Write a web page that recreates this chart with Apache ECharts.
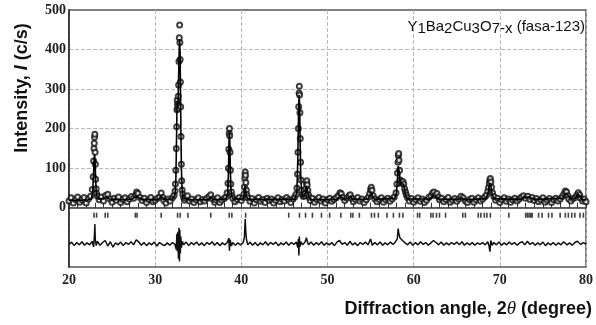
<!DOCTYPE html>
<html>
<head>
<meta charset="utf-8">
<title>YBCO XRD</title>
<script src="https://cdn.jsdelivr.net/npm/echarts@6/dist/echarts.min.js"></script>
<style>
  html, body { margin: 0; padding: 0; background: #fff; }
  #myChart { width: 596px; height: 325px; }
</style>
</head>
<body>
<div id="myChart"></div>
<script>
// observed intensity, [2theta, c/s]
var yObs = [
  [20.0,17],[20.25,25],[20.5,12],[20.75,21],[21.0,27],[21.25,14],[21.5,20],[21.75,26],[22.0,12],[22.25,22],[22.5,29],[22.7,46],
  [22.8,78],[22.86,118],[22.9,150],[22.93,163],[22.96,178],[23.0,186],[23.03,140],[23.06,110],[23.1,72],[23.15,48],[23.2,36],[23.3,29],
  [23.5,20],[23.75,27],[24.0,17],[24.25,31],[24.5,34],[24.75,22],[25.0,14],[25.25,24],[25.5,19],[25.75,27],[26.0,13],[26.25,21],
  [26.5,25],[26.75,15],[27.0,22],[27.25,28],[27.5,24],[27.75,33],[27.85,40],[28.0,36],[28.25,26],[28.5,18],[28.75,24],[29.0,13],
  [29.25,21],[29.5,26],[29.75,15],[30.0,19],[30.25,24],[30.5,27],[30.7,37],[30.9,26],[31.0,18],[31.25,12],[31.5,22],[31.75,17],
  [32.0,25],[32.2,31],
  [32.3,42],[32.35,60],[32.4,95],[32.45,150],[32.5,205],[32.53,248],[32.56,272],[32.59,262],[32.62,250],[32.65,258],[32.68,282],
  [32.72,310],[32.76,370],[32.8,430],[32.84,462],[32.87,418],[32.9,375],[32.93,318],[32.96,255],[33.0,180],[33.04,110],[33.08,68],
  [33.13,45],[33.2,34],[33.3,26],[33.4,19],
  [33.5,24],[33.75,30],[34.0,17],[34.25,22],[34.5,13],[34.75,20],[35.0,25],[35.25,15],[35.5,21],[35.75,17],[36.0,24],[36.25,28],
  [36.45,33],[36.65,22],[36.9,14],[37.0,20],[37.25,25],[37.5,13],[37.75,19],[38.0,23],[38.2,27],[38.35,38],
  [38.45,62],[38.5,100],[38.55,148],[38.59,188],[38.62,200],[38.65,182],[38.69,140],[38.73,95],[38.78,60],[38.85,40],[38.92,30],[39.0,24],
  [39.25,15],[39.5,21],[39.75,26],[40.0,18],[40.2,26],
  [40.3,34],[40.36,52],[40.41,75],[40.45,90],[40.48,82],[40.52,64],[40.58,45],[40.65,33],[40.75,25],
  [41.0,16],[41.25,23],[41.5,12],[41.75,20],[42.0,26],[42.25,16],[42.5,21],[42.75,13],[43.0,24],[43.25,18],[43.5,22],[43.75,12],
  [44.0,19],[44.25,25],[44.5,15],[44.75,21],[45.0,17],[45.25,26],[45.5,20],[45.75,13],[46.0,22],[46.2,27],[46.35,34],
  [46.45,50],[46.52,85],[46.57,140],[46.62,200],[46.66,255],[46.7,290],[46.73,307],[46.76,285],[46.8,240],[46.84,175],[46.88,115],
  [46.93,70],[47.0,44],[47.1,32],[47.2,28],[47.3,30],
  [47.4,36],[47.48,48],[47.55,62],[47.6,68],[47.65,58],[47.72,44],[47.8,32],[47.9,25],
  [48.0,18],[48.25,24],[48.5,14],[48.75,21],[49.0,26],[49.25,17],[49.5,22],[49.75,12],[50.0,20],[50.25,24],[50.5,16],[50.75,21],
  [51.0,25],[51.25,30],[51.45,38],[51.6,35],[51.8,26],[52.0,18],[52.25,24],[52.5,30],[52.65,33],[52.85,24],[53.0,15],[53.25,21],
  [53.5,26],[53.75,17],[54.0,22],[54.25,13],[54.5,20],[54.75,27],[54.9,36],[55.0,46],[55.08,52],[55.16,44],[55.3,30],[55.5,22],
  [55.75,15],[56.0,21],[56.25,25],[56.5,14],[56.75,20],[57.0,24],[57.25,16],[57.5,22],[57.75,27],[57.95,38],
  [58.05,60],[58.12,88],[58.18,115],[58.22,132],[58.26,137],[58.3,120],[58.36,95],[58.45,70],[58.55,62],[58.65,64],[58.75,66],
  [58.85,60],[58.95,48],[59.05,40],[59.15,32],[59.3,25],
  [59.5,17],[59.75,23],[60.0,14],[60.25,20],[60.5,25],[60.75,16],[61.0,22],[61.25,13],[61.5,19],[61.75,26],[62.0,30],[62.2,37],
  [62.35,40],[62.5,31],[62.7,36],[62.9,27],[63.0,20],[63.25,24],[63.5,15],[63.75,21],[64.0,26],[64.25,14],[64.5,19],[64.75,23],
  [65.0,16],[65.25,22],[65.5,29],[65.75,25],[66.0,17],[66.25,13],[66.5,21],[66.75,24],[67.0,14],[67.25,20],[67.5,25],[67.75,17],
  [68.0,22],[68.25,27],[68.45,32],
  [68.6,42],[68.7,52],[68.78,62],[68.84,70],[68.9,74],[68.96,65],[69.04,52],[69.15,38],[69.3,28],
  [69.5,19],[69.75,24],[70.0,13],[70.25,20],[70.5,25],[70.75,16],[71.0,22],[71.25,14],[71.5,20],[71.75,24],[72.0,17],[72.25,22],
  [72.5,27],[72.75,30],[73.0,24],[73.25,29],[73.5,21],[73.75,26],[74.0,18],[74.25,23],[74.5,15],[74.75,20],[75.0,25],[75.25,14],
  [75.5,19],[75.75,23],[76.0,13],[76.25,20],[76.5,24],[76.75,17],[77.0,22],[77.25,28],[77.45,35],[77.6,42],[77.75,40],[77.9,30],
  [78.0,22],[78.25,17],[78.5,23],[78.75,26],[78.95,32],[79.1,38],[79.25,33],[79.4,24],[79.6,17],[79.8,22],[80.0,15]
]

// calculated profile, [2theta, c/s]
var yCalc = [
  [20,19],[21,19],[22,19],[22.6,22],[22.75,40],[22.85,85],[22.92,125],[22.97,135],[23.02,120],[23.08,80],[23.15,45],[23.25,28],
  [23.4,22],[24.0,23],[24.3,27],[24.5,26],[24.8,21],[26,20],[27.4,22],[27.75,30],[27.9,32],[28.1,25],[28.5,21],[30.3,20],
  [30.7,29],[31.0,21],[32.0,22],[32.3,32],[32.4,70],[32.47,160],[32.53,250],[32.57,270],[32.62,255],[32.67,275],[32.73,340],
  [32.79,400],[32.84,425],[32.89,395],[32.94,300],[32.99,190],[33.05,95],[33.12,50],[33.2,32],[33.4,23],[34,20],[36.2,20],
  [36.45,26],[36.7,20],[38.2,22],[38.4,35],[38.5,85],[38.56,160],[38.61,195],[38.66,170],[38.72,100],[38.8,45],[38.9,28],
  [39.1,22],[40.2,22],[40.35,35],[40.44,55],[40.5,45],[40.6,28],[40.8,21],[46.2,21],[46.45,40],[46.55,120],[46.62,210],
  [46.68,270],[46.72,285],[46.77,250],[46.83,160],[46.9,80],[47.0,40],[47.2,27],[47.45,38],[47.58,55],[47.68,42],[47.85,25],
  [48.2,20],[51.2,21],[51.5,32],[51.8,22],[52.4,23],[52.65,29],[52.9,21],[54.7,22],[54.95,33],[55.07,40],[55.2,30],[55.5,21],
  [57.8,24],[58.0,38],[58.12,75],[58.2,105],[58.25,110],[58.32,92],[58.42,68],[58.55,60],[58.7,63],[58.82,60],[58.95,45],
  [59.1,30],[59.3,22],[61.9,22],[62.2,30],[62.35,31],[62.6,27],[62.9,22],[65.3,21],[65.6,25],[65.9,20],[68.4,23],[68.6,35],
  [68.75,50],[68.87,62],[68.97,55],[69.1,35],[69.3,23],[72.4,21],[72.8,26],[73.3,27],[73.7,24],[74.2,21],[77.3,24],[77.55,36],
  [77.7,40],[77.85,33],[78.2,22],[78.8,24],[79.1,34],[79.3,28],[79.6,20],[80,20]
]

// difference obs - calc, [2theta, c/s]
var yDiff = [
  [20.0,-2],[20.3,4],[20.6,-5],[20.9,3],[21.2,-3],[21.5,5],[21.8,-4],[22.1,2],[22.4,-3],[22.7,6],[22.85,-8],[22.95,20],[23.0,50],
  [23.05,12],[23.15,-5],[23.3,6],[23.6,-4],[23.9,3],[24.2,8],[24.5,-6],[24.8,5],[25.1,-9],[25.4,2],[25.7,-3],[26.0,4],[26.3,-5],
  [26.6,3],[26.9,-2],[27.2,5],[27.5,-3],[27.8,10],[28.1,4],[28.4,-4],[28.7,3],[29.0,-5],[29.3,2],[29.6,-3],[29.9,4],[30.2,-6],
  [30.5,3],[30.8,-2],[31.1,-5],[31.4,2],[31.7,-4],[32.0,3],[32.3,-2],[32.45,-15],[32.52,25],[32.58,-20],[32.64,30],[32.7,-38],
  [32.76,40],[32.82,-45],[32.86,35],[32.92,-25],[32.98,18],[33.05,-10],[33.15,6],[33.3,-3],[33.6,4],[33.9,-5],[34.2,3],
  [34.5,-3],[34.8,4],[35.1,-4],[35.4,2],[35.7,-5],[36.0,3],[36.3,-2],[36.6,5],[36.9,-4],[37.2,3],[37.5,-5],[37.8,2],[38.1,-3],
  [38.4,4],[38.55,14],[38.62,-18],[38.7,10],[38.85,-6],[39.0,3],[39.3,-4],[39.6,2],[39.9,-3],[40.2,2],[40.35,15],[40.45,62],
  [40.52,30],[40.6,10],[40.75,-3],[41.0,4],[41.3,-4],[41.6,3],[41.9,-5],[42.2,2],[42.5,-3],[42.8,5],[43.1,-4],[43.4,3],[43.7,-2],
  [44.0,4],[44.3,-5],[44.6,2],[44.9,-3],[45.2,4],[45.5,-4],[45.8,3],[46.1,-2],[46.4,4],[46.55,-10],[46.62,12],[46.68,-30],
  [46.73,18],[46.8,-8],[46.9,5],[47.1,-3],[47.4,4],[47.55,15],[47.65,6],[47.8,-3],[48.1,4],[48.4,-4],[48.7,3],[49.0,-3],[49.3,5],
  [49.6,-4],[49.9,2],[50.2,-3],[50.5,3],[50.8,-5],[51.1,4],[51.4,8],[51.7,-2],[52.0,3],[52.3,-4],[52.6,6],[52.9,-3],[53.2,2],
  [53.5,-5],[53.8,3],[54.1,-2],[54.4,4],[54.7,-3],[55.0,12],[55.2,-4],[55.5,3],[55.8,-3],[56.1,4],[56.4,-4],[56.7,2],[57.0,-3],
  [57.3,4],[57.6,-2],[57.9,5],[58.1,12],[58.2,38],[58.28,26],[58.4,15],[58.55,10],[58.7,8],[58.85,4],[59.0,2],[59.3,-3],[59.6,4],
  [59.9,-4],[60.2,3],[60.5,-3],[60.8,5],[61.1,-2],[61.4,3],[61.7,-4],[62.0,2],[62.3,8],[62.6,3],[62.9,-3],[63.2,4],[63.5,-4],
  [63.8,2],[64.1,-3],[64.4,3],[64.7,-2],[65.0,4],[65.3,-3],[65.6,5],[65.9,-4],[66.2,2],[66.5,-3],[66.8,3],[67.1,-4],[67.4,2],
  [67.7,-2],[68.0,3],[68.3,-3],[68.6,5],[68.75,-6],[68.85,-20],[68.95,8],[69.1,-4],[69.3,3],[69.6,-3],[69.9,4],[70.2,-4],[70.5,2],
  [70.8,-3],[71.1,4],[71.4,-2],[71.7,3],[72.0,-4],[72.3,2],[72.6,5],[72.9,-3],[73.2,6],[73.5,-2],[73.8,3],[74.1,-4],[74.4,2],
  [74.7,-3],[75.0,4],[75.3,-5],[75.6,2],[75.9,-3],[76.2,3],[76.5,-4],[76.8,2],[77.1,-3],[77.4,5],[77.6,8],[77.8,-3],[78.1,2],
  [78.4,-4],[78.7,3],[79.0,6],[79.2,9],[79.4,-2],[79.7,3],[80.0,-2]
]

// Bragg reflection positions (2theta)
var braggPos = [
  22.9, 23.2, 24.2, 24.5, 27.7, 27.9, 30.7, 32.6, 32.9, 33.8, 36.45, 38.6, 38.9, 40.5, 45.5, 46.75, 47.45, 48.25, 49.3,
  50.25, 51.55, 52.7, 52.95, 53.7, 55.1, 55.45, 55.9, 56.9, 57.65, 58.35, 58.75, 60.45, 60.7, 62.0, 62.25, 62.65, 63.0,
  63.7, 65.7, 66.0, 67.5, 67.8, 68.2, 68.5, 68.9, 71.05, 73.0, 73.2, 73.4, 73.6, 73.75, 74.5, 74.9, 75.65, 76.05, 77.0,
  77.6, 77.95, 78.35, 78.7, 79.3, 79.7
]

// y labels shown on the axis
var yTickLabels = [0, 100, 200, 300, 400, 500]

// where the extra traces sit below zero
var braggLevel = -19
var diffOffset = -91

var myChart = echarts.init(document.getElementById('myChart'))

// dashed split lines only at 0..400
var ySplitColors = []
for (var v = -150; v <= 500; v += 50) {
  ySplitColors.push((v >= 0 && v < 500 && v % 100 === 0) ? '#b8b8c0' : 'rgba(0,0,0,0)')
}

var diffData = yDiff.map(function (p) { return [p[0], p[1] + diffOffset] })
var braggData = braggPos.map(function (x) { return [x, braggLevel] })

var serif = '"Liberation Serif", "DejaVu Serif", serif'
var sans = '"Liberation Sans", Arial, sans-serif'

myChart.setOption({
  animation: false,
  backgroundColor: '#fff',
  title: {
    right: 6,
    top: 14,
    text: '{n|Y}{s|1}{n|Ba}{s|2}{n|Cu}{s|3}{n|O}{s|7-x}{n| (fasa-123)}',
    textStyle: {
      fontWeight: 'normal',
      rich: {
        n: { fontFamily: sans, fontSize: 15, fontWeight: 'normal', color: '#111', lineHeight: 17, verticalAlign: 'top' },
        s: { fontFamily: sans, fontSize: 15, fontWeight: 'normal', color: '#111', lineHeight: 17, padding: [5, 0, 0, 0], verticalAlign: 'bottom' }
      }
    }
  },
  grid: {
    left: 69,
    right: 5,
    top: 10,
    bottom: 58,
    show: true,
    borderColor: '#555',
    borderWidth: 1.5
  },
  xAxis: {
    type: 'value',
    min: 20,
    max: 80,
    interval: 10,
    axisLine: { show: true, lineStyle: { color: '#333', width: 1.5 } },
    axisTick: { show: true, inside: true, length: 5, lineStyle: { color: '#333' } },
    minorTick: { show: true, splitNumber: 10, length: 5, lineStyle: { color: '#333' } },
    axisLabel: { fontFamily: serif, fontSize: 14, fontWeight: 'bold', color: '#222', margin: 6 },
    splitLine: { show: true, lineStyle: { color: '#b8b8c0', type: 'dashed', width: 1 } }
  },
  yAxis: {
    type: 'value',
    min: -150,
    max: 500,
    interval: 50,
    axisLine: { show: true, lineStyle: { color: '#222', width: 1.5 } },
    axisTick: { show: false },
    axisLabel: {
      fontFamily: serif,
      fontSize: 14,
      fontWeight: 'bold',
      color: '#222',
      margin: 3,
      formatter: function (val) {
        return yTickLabels.indexOf(val) >= 0 ? String(val) : ''
      }
    },
    splitLine: { show: true, lineStyle: { color: ySplitColors, type: 'dashed', width: 1 } }
  },
  graphic: [
    {
      type: 'text',
      x: 22,
      y: 88,
      rotation: Math.PI / 2,
      style: {
        text: '{b|Intensity, }{i|I}{b| (c/s)}',
        align: 'center',
        verticalAlign: 'middle',
        rich: {
          b: { fontFamily: sans, fontSize: 18, fontWeight: 'bold', fill: '#111' },
          i: { fontFamily: sans, fontSize: 18, fontWeight: 'bold', fontStyle: 'italic', fill: '#111' }
        }
      }
    },
    {
      type: 'text',
      x: 592,
      y: 309,
      style: {
        text: '{b|Diffraction angle, 2}{t|θ}{b| (degree)}',
        align: 'right',
        verticalAlign: 'middle',
        rich: {
          b: { fontFamily: sans, fontSize: 18, fontWeight: 'bold', fill: '#111' },
          t: { fontFamily: serif, fontSize: 19, fontStyle: 'italic', fill: '#111' }
        }
      }
    }
  ],
  series: [
    {
      name: 'obs',
      type: 'scatter',
      data: yObs,
      symbol: 'emptyCircle',
      symbolSize: 5,
      itemStyle: { color: '#111', borderColor: '#111', borderWidth: 1.2 },
      z: 3
    },
    {
      name: 'calc',
      type: 'line',
      data: yCalc,
      symbol: 'none',
      lineStyle: { color: '#000', width: 1.6 },
      z: 4
    },
    {
      name: 'diff',
      type: 'line',
      data: diffData,
      symbol: 'none',
      lineStyle: { color: '#111', width: 1.5 },
      z: 4
    },
    {
      name: 'bragg',
      type: 'scatter',
      data: braggData,
      symbol: 'rect',
      symbolSize: [1.6, 5],
      itemStyle: { color: '#111' },
      z: 4
    }
  ]
})
</script>
</body>
</html>
